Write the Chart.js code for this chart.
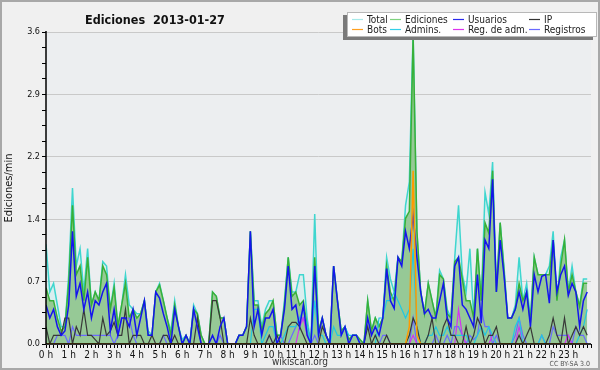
<!DOCTYPE html>
<html>
<head>
<meta charset="utf-8">
<script src="https://cdn.jsdelivr.net/npm/chart.js@4.4.0/dist/chart.umd.min.js"></script>
<style>
  html, body { margin: 0; padding: 0; background: #f0f0f0; }
</style>
</head>
<body>
<canvas id="grafico" width="600" height="370"></canvas>
<script>
const FUENTE = "'DejaVu Sans Condensed', 'DejaVu Sans', sans-serif";

// etiquetas de las horas (una marca cada 10 minutos, 6 por hora)
const horas = ['0 h','1 h','2 h','3 h','4 h','5 h','6 h','7 h','8 h','9 h','10 h','11 h',
  '12 h','13 h','14 h','15 h','16 h','17 h','18 h','19 h','20 h','21 h','22 h','23 h'];

// ediciones por minuto, media de cada tramo de 10 minutos (una fila = 2 horas)
const total = [
  1.15,0.6,0.7,0.45,0.2,0.2, 0.8,1.8,0.9,1.1,0.6,1.1,
  0.45,0.6,0.5,0.95,0.9,0.4, 0.7,0.2,0.45,0.8,0.45,0.4,
  0.35,0.35,0.5,0.15,0.1,0.6, 0.7,0.5,0.3,0.15,0.5,0.2,
  0.05,0.1,0,0.45,0.35,0.1, 0,0,0.6,0.55,0.3,0.3,
  0,0,0,0.1,0.1,0.2, 1.3,0.5,0.5,0.2,0.4,0.5,
  0.5,0.1,0.1,0.5,1.0,0.6, 0.6,0.8,0.8,0.3,0,1.5,
  0.15,0.3,0.1,0,0.9,0.5, 0.15,0.2,0.05,0.1,0.1,0.05,
  0,0.5,0.15,0.3,0.2,0.3, 1.0,0.75,0.6,1.0,0.95,1.6,
  1.87,3.6,1.3,0.6,0.35,0.7, 0.5,0.3,0.85,0.75,0.4,0.3,
  1.0,1.6,0.8,0.6,1.1,0.3, 1.1,0.5,1.75,1.5,2.1,0.6,
  1.4,0.9,0.3,0.3,0.45,1.0, 0.5,0.7,0.3,1.0,0.8,0.8,
  0.8,0.9,1.3,0.5,1.0,1.2, 0.6,0.9,0.6,0.45,0.75,0.75
];
const ediciones = [
  0.65,0.5,0.5,0.3,0.15,0.2, 0.7,1.6,0.8,0.9,0.5,1.0,
  0.45,0.6,0.5,0.9,0.8,0.4, 0.65,0.2,0.45,0.7,0.3,0.4,
  0.3,0.35,0.5,0.1,0.1,0.6, 0.68,0.5,0.3,0.1,0.45,0.2,
  0,0.1,0,0.4,0.35,0.1, 0,0,0.6,0.55,0.3,0.3,
  0,0,0,0.1,0.1,0.2, 1.3,0.45,0.45,0.15,0.35,0.4,
  0.5,0.1,0.1,0.45,1.0,0.55, 0.6,0.45,0.5,0.2,0,1.0,
  0.15,0.3,0.1,0,0.9,0.5, 0.15,0.2,0.05,0.1,0.1,0.05,
  0,0.5,0.15,0.3,0.2,0.3, 0.9,0.6,0.5,1.0,0.95,1.45,
  1.53,3.55,1.3,0.6,0.35,0.7, 0.5,0.3,0.8,0.75,0.35,0.3,
  0.95,1.0,0.75,0.5,0.5,0.3, 1.1,0.5,1.4,1.28,2.0,0.6,
  1.4,0.85,0.3,0.3,0.4,0.7, 0.5,0.6,0.25,1.0,0.8,0.8,
  0.8,0.8,1.2,0.5,0.9,1.2, 0.6,0.8,0.6,0.43,0.7,0.7
];
const usuarios = [
  0.45,0.3,0.4,0.2,0.1,0.15, 0.45,1.3,0.55,0.7,0.4,0.6,
  0.3,0.5,0.45,0.6,0.7,0.15, 0.4,0.1,0.3,0.3,0.2,0.4,
  0.1,0.3,0.5,0.1,0.1,0.6, 0.53,0.35,0.2,0,0.4,0.2,
  0,0.1,0,0.4,0.2,0, 0,0,0.1,0,0.2,0.3,
  0,0,0,0.1,0.1,0.2, 1.3,0.2,0.4,0.1,0.3,0.3,
  0.4,0,0.1,0.4,0.9,0.4, 0.45,0.2,0.45,0.1,0,0.9,
  0.1,0.3,0.1,0,0.9,0.5, 0.1,0.2,0,0.1,0.1,0,
  0,0.3,0.1,0.2,0.1,0.3, 0.87,0.5,0.41,1.0,0.9,1.3,
  1.1,1.49,1.0,0.6,0.35,0.4, 0.3,0.3,0.5,0.7,0.3,0.2,
  0.9,1.0,0.45,0.4,0.3,0.2, 0.8,0.24,1.2,1.1,1.9,0.6,
  1.2,0.8,0.3,0.3,0.4,0.6, 0.4,0.6,0.2,0.8,0.6,0.78,
  0.8,0.47,1.2,0.6,0.8,0.9, 0.56,0.7,0.6,0.2,0.5,0.6
];
const ip = [
  0.2,0,0.1,0.1,0.1,0.3, 0.3,0,0.2,0.1,0.4,0.1,
  0.1,0.05,0,0.3,0.1,0.15, 0.25,0.1,0.1,0.4,0,0.1,
  0.1,0.1,0,0,0.1,0, 0,0.1,0.1,0,0.1,0,
  0,0,0,0,0.3,0, 0,0,0.5,0.5,0.3,0,
  0,0,0,0,0,0, 0.3,0.1,0,0,0,0.1,
  0,0.1,0,0,0.2,0.25, 0.25,0.2,0.1,0,0,0,
  0,0.2,0.1,0,0,0, 0,0,0,0,0,0,
  0,0.2,0,0.1,0,0, 0.1,0,0,0,0,0,
  0.1,0.3,0.2,0,0,0.1, 0.3,0,0,0.2,0.3,0.1,
  0.1,0,0,0.2,0,0.1, 0.3,0.2,0,0.1,0.1,0.2,
  0,0,0,0,0,0.1, 0,0.1,0.2,0,0,0,
  0,0.1,0.3,0.1,0,0.3, 0,0.1,0.2,0.1,0.2,0.1
];
const bots = [
  0,0,0,0,0,0, 0,0,0,0,0,0,
  0,0,0,0,0,0, 0,0,0,0,0,0,
  0,0,0,0,0,0, 0,0,0,0,0,0,
  0,0,0,0,0,0, 0,0,0,0,0,0,
  0,0,0,0,0,0, 0,0,0,0,0,0,
  0,0,0,0,0,0, 0,0,0,0,0,0,
  0,0,0,0,0,0, 0,0,0,0,0,0,
  0,0,0,0,0,0, 0,0,0,0,0,0,
  0.2,2.0,0.1,0,0,0, 0,0,0,0,0,0,
  0,0,0,0,0,0, 0,0,0,0,0,0,
  0,0,0,0,0,0, 0,0,0,0,0,0,
  0,0,0,0,0,0, 0,0,0,0,0,0
];
const admins = [
  0,0,0,0,0,0, 0,0,0,0,0,0,
  0,0,0,0,0,0, 0,0,0,0,0,0,
  0,0,0,0,0,0, 0,0,0,0,0,0,
  0,0,0,0,0,0, 0,0,0,0,0,0,
  0,0,0,0,0,0, 0,0.4,0.4,0,0.1,0.2,
  0.2,0,0,0.1,0.2,0.2, 0.2,0.3,0.4,0.2,0,0.5,
  0.1,0.1,0,0,0.2,0.1, 0.1,0.2,0.1,0.1,0.1,0,
  0,0,0,0,0.3,0.3, 0.5,0.5,0.6,0.5,0.4,0.3,
  0.4,1.1,0.2,0,0,0.1, 0.1,0.2,0.1,0.1,0.2,0.1,
  0.1,0.1,0.1,0.1,0,0, 0.1,0.2,0.1,0.2,0.1,0,
  0,0,0,0,0.2,0.3, 0,0,0,0,0,0.1,
  0,0,0,0,0,0, 0,0,0,0.1,0.2,0.4
];
const regAdm = [
  0,0,0,0,0,0, 0,0,0,0,0,0,
  0,0,0,0,0,0, 0,0,0,0,0,0,
  0,0,0,0,0,0, 0,0,0,0,0,0,
  0,0,0,0,0,0, 0,0,0,0,0,0,
  0,0,0,0,0,0, 0,0,0,0,0,0,
  0,0,0,0,0,0, 0,0.2,0.3,0.1,0,0,
  0,0,0,0,0,0, 0,0,0,0,0,0,
  0,0,0,0,0,0, 0,0,0,0,0,0,
  0,0.1,0,0,0,0, 0,0,0,0,0,0,
  0,0.4,0.1,0,0,0, 0,0,0,0,0.1,0,
  0,0,0,0,0,0.2, 0,0,0,0,0,0,
  0,0,0,0,0,0, 0.1,0,0,0,0,0
];
const registros = [
  0,0,0,0.1,0.1,0.1, 0,0.2,0.1,0.1,0.1,0.1,
  0.1,0.1,0.1,0.1,0.1,0.1, 0,0.1,0.3,0.3,0.3,0.1,
  0,0,0,0,0,0, 0,0.1,0,0,0,0,
  0,0,0,0,0,0, 0,0,0,0,0.1,0,
  0,0,0,0,0,0, 0,0,0,0,0,0.1,
  0,0,0.1,0,0,0.1, 0.2,0.3,0.3,0.2,0,0.1,
  0,0,0,0,0,0, 0,0,0,0,0,0,
  0,0,0,0,0,0.1, 0.1,0,0,0,0,0,
  0,0.3,0,0,0,0, 0,0.1,0,0,0.1,0,
  0.2,0.2,0.1,0,0.1,0.05, 0.1,0.4,0.2,0.2,0,0.1,
  0,0,0,0,0.1,0.3, 0.1,0,0,0,0,0.1,
  0,0,0.2,0.1,0.1,0.1, 0.1,0,0.2,0.1,0.1,0
];

// leyenda: [texto, color, columna, fila]
const leyenda = [
  ['Total', '#a6eaea', 0, 0], ['Ediciones', '#7fd27f', 1, 0], ['Usuarios', '#2a2aee', 2, 0], ['IP', '#333333', 3, 0],
  ['Bots', '#ffa020', 0, 1], ['Admins.', '#33d0e8', 1, 1], ['Reg. de adm.', '#dd33ee', 2, 1], ['Registros', '#6a6aff', 3, 1]
];

// posición x de cada tramo: índice del tramo de 10 minutos
const tramos = total.map((v, i) => i);

function serie(label, datos, color, extra) {
  return Object.assign({
    label: label,
    data: datos,
    borderColor: color,
    backgroundColor: color,
    borderWidth: 1.2,
    pointRadius: 0,
    tension: 0,
    fill: false
  }, extra || {});
}

// fondo, zona del gráfico y marco
const fondo = {
  id: 'fondo',
  beforeDraw(chart) {
    const ctx = chart.ctx, a = chart.chartArea;
    ctx.save();
    ctx.fillStyle = '#f0f0f0';
    ctx.fillRect(0, 0, chart.width, chart.height);
    ctx.fillStyle = '#eceef0';
    ctx.fillRect(a.left, a.top, a.right - a.left, a.bottom - a.top);
    ctx.strokeStyle = '#a8a8a8';
    ctx.lineWidth = 2;
    ctx.strokeRect(1, 1, chart.width - 2, chart.height - 2);
    ctx.restore();
  },
  afterDatasetsDraw(chart) {
    const ctx = chart.ctx, a = chart.chartArea;
    ctx.save();
    ctx.strokeStyle = '#000';
    ctx.lineWidth = 1.5;
    ctx.beginPath();
    ctx.moveTo(a.left, a.top - 1);
    ctx.lineTo(a.left, a.bottom);
    ctx.lineTo(a.right, a.bottom);
    ctx.stroke();
    ctx.restore();
  }
};

// títulos, textos y leyenda
const textos = {
  id: 'textos',
  afterDraw(chart) {
    const ctx = chart.ctx;
    ctx.save();
    ctx.fillStyle = '#111';
    ctx.font = 'bold 12.5px ' + FUENTE;
    ctx.textAlign = 'left';
    ctx.textBaseline = 'alphabetic';
    ctx.fillText('Ediciones  2013-01-27', 85, 24);

    ctx.save();
    ctx.translate(12, 188);
    ctx.rotate(-Math.PI / 2);
    ctx.textAlign = 'center';
    ctx.font = '11px ' + FUENTE;
    ctx.fillText('Ediciones/min', 0, 0);
    ctx.restore();

    ctx.textAlign = 'center';
    ctx.font = '10px ' + FUENTE;
    ctx.fillStyle = '#333';
    ctx.fillText('wikiscan.org', 300, 365);
    ctx.textAlign = 'right';
    ctx.font = '7px ' + FUENTE;
    ctx.fillStyle = '#555';
    ctx.fillText('CC BY-SA 3.0', 590, 366);

    // caja de la leyenda con sombra
    ctx.fillStyle = '#7a7a7a';
    ctx.fillRect(343, 15, 250, 25);
    ctx.fillStyle = '#ffffff';
    ctx.fillRect(347, 12, 250, 25);
    ctx.strokeStyle = '#b8b8b8';
    ctx.lineWidth = 1;
    ctx.strokeRect(347.5, 12.5, 249, 24);

    const colX = [352, 390, 453, 529];
    const filaY = [19.5, 29.5];
    ctx.font = '10px ' + FUENTE;
    ctx.textAlign = 'left';
    ctx.textBaseline = 'middle';
    leyenda.forEach(function (it) {
      const x = colX[it[2]], y = filaY[it[3]];
      ctx.strokeStyle = it[1];
      ctx.lineWidth = 1.2;
      ctx.beginPath();
      ctx.moveTo(x, y);
      ctx.lineTo(x + 11, y);
      ctx.stroke();
      ctx.fillStyle = '#222';
      ctx.fillText(it[0], x + 15, y + 0.5);
    });
    ctx.restore();
  }
};

new Chart(document.getElementById('grafico'), {
  type: 'line',
  data: {
    labels: tramos,
    datasets: [
      serie('Total', total, '#3fd6cf', { order: 10, fill: 'origin', backgroundColor: 'rgba(185,238,238,0.35)', borderWidth: 1.5 }),
      serie('Ediciones', ediciones, '#38b038', { order: 9, fill: 'origin', backgroundColor: '#96c996', borderWidth: 1.5 }),
      serie('Registros', registros, '#6a6aff', { order: 8 }),
      serie('Reg. de adm.', regAdm, '#d433f0', { order: 7 }),
      serie('Admins.', admins, '#22c8e0', { order: 6 }),
      serie('IP', ip, '#383838', { order: 5 }),
      serie('Usuarios', usuarios, '#1414ee', { order: 4, borderWidth: 1.5 }),
      serie('Bots', bots, '#ff9a00', { order: 3, borderWidth: 1.5 })
    ]
  },
  options: {
    responsive: false,
    animation: false,
    layout: { padding: { top: 32, right: 9, left: 0, bottom: 0 } },
    plugins: {
      legend: { display: false },
      tooltip: { enabled: false }
    },
    scales: {
      x: {
        type: 'linear',
        min: 0,
        max: 144,
        afterFit: function (s) { s.height = 26; },
        ticks: {
          stepSize: 1,
          autoSkip: false,
          maxRotation: 0,
          padding: 1,
          color: '#111',
          font: { family: FUENTE, size: 10 },
          callback: function (v) { return (v % 6 === 0 && v < 144) ? horas[v / 6] : ''; }
        },
        grid: { drawOnChartArea: false, drawTicks: true, tickLength: 4, tickColor: '#000', tickWidth: 1 },
        border: { display: false }
      },
      y: {
        min: 0,
        max: 3.6,
        afterFit: function (s) { s.width = 46; },
        ticks: {
          stepSize: 0.18,
          autoSkip: false,
          padding: 2,
          color: '#111',
          font: { family: FUENTE, size: 9 },
          callback: function (v, i) { return i % 4 === 0 ? v.toFixed(1) : ''; }
        },
        grid: {
          color: function (c) { return c.index % 4 === 0 ? '#c9c9c9' : 'rgba(0,0,0,0)'; },
          tickColor: '#000',
          tickLength: 4,
          drawTicks: true
        },
        border: { display: false }
      }
    }
  },
  plugins: [fondo, textos]
});
</script>
</body>
</html>
